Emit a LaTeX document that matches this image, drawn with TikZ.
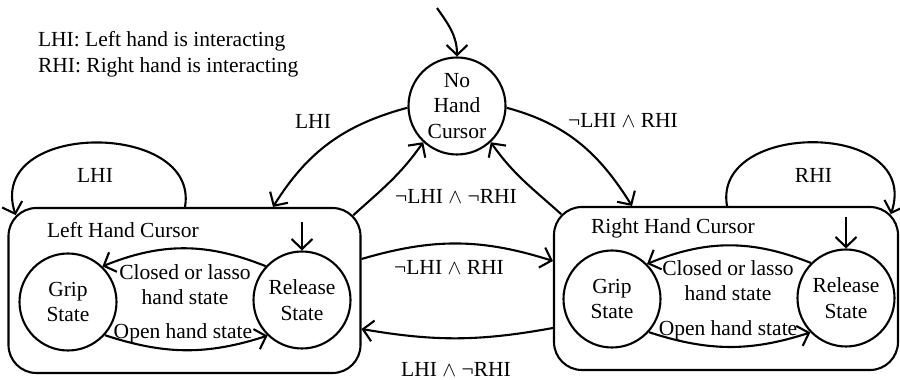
\documentclass[tikz,border=0pt]{standalone}
\usepackage{fontspec}
\setmainfont{Liberation Serif}
\usetikzlibrary{arrows.meta,calc}
\begin{document}
\begin{tikzpicture}[x=1pt,y=1pt, line width=2.1pt,
  every node/.style={font=\fontsize{21.5}{25.5}\selectfont, inner sep=0pt},
  st/.style={draw, circle, minimum size=97pt, align=center},
  cbox/.style={draw, rounded corners=28pt},
  arr/.style={-{Straight Barb[length=10pt,width=21pt]}, line join=round},
  lbl/.style={align=center}]
\useasboundingbox (0,0) rectangle (900,380);

% containers
\node[cbox, minimum width=352pt, minimum height=165pt] (lbox) at (184.5,89.5) {};
\node[cbox, minimum width=344pt, minimum height=163pt] (rbox) at (726,91.5) {};

% states
\node[st] (nhc) at (457,274) {No\\Hand\\Cursor};
\node[st] (lgrip) at (68,78) {Grip\\State};
\node[st] (lrel) at (302,80) {Release\\State};
\node[st] (rgrip) at (612,81) {Grip\\State};
\node[st] (rrel) at (846,82) {Release\\State};

% titles and legend
\node[anchor=west] (ltitle) at (46,150) {Left Hand Cursor};
\node[anchor=west] (rtitle) at (590,152) {Right Hand Cursor};
\node[anchor=west, align=left] (legend) at (37,325.5) {LHI: Left hand is interacting\\RHI: Right hand is interacting};

% helper coordinates
\coordinate (lboxTL) at ($(lbox.north west)+(8.2,-8.2)$);
\coordinate (lboxTR) at ($(lbox.north east)+(-8.2,-8.2)$);
\coordinate (rboxTL) at ($(rbox.north west)+(8.2,-8.2)$);
\coordinate (rboxTR) at ($(rbox.north east)+(-8.2,-8.2)$);
\coordinate (nhcin) at (437,372);
\coordinate (lloopS) at (185,0 |- lbox.north);
\coordinate (rloopS) at (727,0 |- rbox.north);
\coordinate (lboxIn) at (273,0 |- lbox.north);
\coordinate (rboxIn) at (632,0 |- rbox.north);
\coordinate (lrelin) at ($(lrel.north)+(0,28.5)$);
\coordinate (rrelin) at ($(rrel.north)+(0,31.5)$);
\coordinate (lboxE1) at (lbox.east |- 0,121);
\coordinate (rboxW1) at (rbox.west |- 0,119);
\coordinate (rboxW2) at (rbox.west |- 0,52);
\coordinate (lboxE2) at (lbox.east |- 0,51);

% connectors
\draw[arr] (nhcin) to[out=-55,in=90] (nhc.north);
\draw[arr] (nhc.182) to[out=195,in=58] (lboxIn);
\draw[arr] (nhc.-2) to[out=-15,in=122] (rboxIn);
\draw[arr] (lboxTR) to[out=42,in=235] (nhc.227);
\draw[arr] (rboxTL) to[out=138,in=-55] (nhc.313);
\draw[arr] (lloopS) .. controls (200,260) and (-15,260) .. (lboxTL);
\draw[arr] (rloopS) .. controls (712,260) and (922,260) .. (rboxTR);
\draw[arr] (lboxE1) to[bend left=17] (rboxW1);
\draw[arr] (rboxW2) to[bend left=10] (lboxE2);
\draw[arr] (lrel.137) to[bend right=22] (lgrip.46);
\draw[arr] (lgrip.-42) to[bend right=18] (lrel.226);
\draw[arr] (rrel.135) to[bend right=22] (rgrip.45);
\draw[arr] (rgrip.-42) to[bend right=18] (rrel.224);
\draw[arr] (lrelin) -- (lrel.north);
\draw[arr] (rrelin) -- (rrel.north);

% labels
\node (tLHI) at (313,259) {LHI};
\node (tnLR) at (623,260) {¬LHI $\wedge$ RHI};
\node (tloopL) at (95,205) {LHI};
\node (tloopR) at (813.5,205) {RHI};
\node (tnn) at (456,183.5) {¬LHI $\wedge$ ¬RHI};
\node (tmid1) at (449,112.5) {¬LHI $\wedge$ RHI};
\node (tmid2) at (456,10.5) {LHI $\wedge$ ¬RHI};
\node[lbl] (tlc) at (185,95.5) {Closed or lasso\\hand state};
\node[lbl] (trc) at (728,99.5) {Closed or lasso\\hand state};
\node (tlo) at (183,47) {Open hand state};
\node (tro) at (728,50) {Open hand state};
\end{tikzpicture}
\end{document}
